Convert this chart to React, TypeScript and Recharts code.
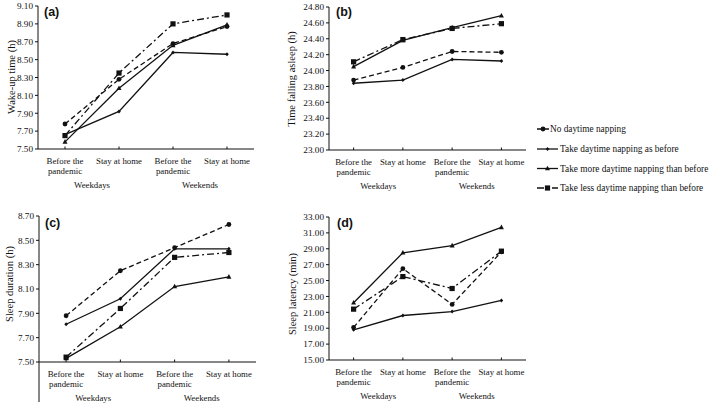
import React from 'react';
import { LineChart, Line, XAxis, YAxis } from 'recharts';

// ---------- data ----------
const categoryKeys = ['wd-before', 'wd-home', 'we-before', 'we-home'];
const situationLabels = [['Before the', 'pandemic'], ['Stay at home'], ['Before the', 'pandemic'], ['Stay at home']];
const periodLabels = ['Weekdays', 'Weekends'];
const seriesNames = [
  'No daytime napping',
  'Take daytime napping as before',
  'Take more daytime napping than before',
  'Take less daytime napping than before',
];

// (a) Wake-up time (h)
const wakeNo = [7.78, 8.28, 8.68, 8.87];
const wakeSame = [7.66, 7.92, 8.58, 8.56];
const wakeMore = [7.58, 8.18, 8.66, 8.89];
const wakeLess = [7.65, 8.35, 8.9, 9.0];
const wakeTicks = [7.5, 7.7, 7.9, 8.1, 8.3, 8.5, 8.7, 8.9, 9.1];

// (b) Time falling asleep (h)
const asleepNo = [23.88, 24.04, 24.24, 24.23];
const asleepSame = [23.84, 23.88, 24.14, 24.12];
const asleepMore = [24.05, 24.38, 24.54, 24.69];
const asleepLess = [24.11, 24.39, 24.53, 24.59];
const asleepTicks = [23.0, 23.2, 23.4, 23.6, 23.8, 24.0, 24.2, 24.4, 24.6, 24.8];

// (c) Sleep duration (h)
const durationNo = [7.88, 8.25, 8.44, 8.63];
const durationSame = [7.81, 8.02, 8.43, 8.43];
const durationMore = [7.53, 7.79, 8.12, 8.2];
const durationLess = [7.54, 7.94, 8.36, 8.4];
const durationTicks = [7.5, 7.7, 7.9, 8.1, 8.3, 8.5, 8.7];

// (d) Sleep latency (min)
const latencyNo = [19.1, 26.5, 22.0, 28.6];
const latencySame = [18.8, 20.6, 21.1, 22.5];
const latencyMore = [22.2, 28.5, 29.4, 31.7];
const latencyLess = [21.4, 25.5, 24.0, 28.7];
const latencyTicks = [15, 17, 19, 21, 23, 25, 27, 29, 31, 33];

// ---------- styles ----------
const SERIF = "'Liberation Serif', 'DejaVu Serif', serif";
const SANS = "'Liberation Sans', Arial, sans-serif";
const INK = '#111';
const serifStyle = { fontFamily: SERIF };
const X_FONT = 8.8;
const Y_FONT = 9.2;
const LEGEND_FONT = 9.3;

const seriesKeys = ['no', 'same', 'more', 'less'];
const seriesStyle: Record<string, { dash?: string; marker: string }> = {
  no: { dash: '5 3', marker: 'circle' },
  same: { marker: 'diamond' },
  more: { marker: 'triangle' },
  less: { dash: '7 3 2 3', marker: 'square' },
};

function buildData(no: number[], same: number[], more: number[], less: number[]) {
  return categoryKeys.map((k, i) => ({ key: k, no: no[i], same: same[i], more: more[i], less: less[i] }));
}

function Marker({ cx, cy, kind }: { cx: number; cy: number; kind: string }) {
  if (cx == null || cy == null) return null;
  if (kind === 'circle') return <circle cx={cx} cy={cy} r={2.4} fill={INK} />;
  if (kind === 'square') return <rect x={cx - 2.6} y={cy - 2.6} width={5.2} height={5.2} fill={INK} />;
  if (kind === 'triangle')
    return <polygon points={`${cx},${cy - 2.8} ${cx - 2.5},${cy + 1.8} ${cx + 2.5},${cy + 1.8}`} fill={INK} />;
  return <polygon points={`${cx},${cy - 2} ${cx + 1.8},${cy} ${cx},${cy + 2} ${cx - 1.8},${cy}`} fill={INK} />;
}

function CatTick(props: any) {
  const { x, y, index, half } = props;
  const lines = situationLabels[index] || [];
  const group = index % 2 === 0 ? periodLabels[index / 2] : null;
  return (
    <g>
      <line x1={x} y1={y} x2={x} y2={y - 2.5} stroke={INK} strokeWidth={1} />
      {lines.map((t: string, i: number) => (
        <text key={i} x={x} y={y + 15 + i * 9.5} textAnchor="middle" fontSize={X_FONT} fontFamily={SERIF} style={serifStyle} fill={INK}>
          {t}
        </text>
      ))}
      {group && (
        <text x={x + half} y={y + 39} textAnchor="middle" fontSize={X_FONT} fontFamily={SERIF} style={serifStyle} fill={INK}>
          {group}
        </text>
      )}
    </g>
  );
}

type PanelProps = {
  data: any[];
  ticks: number[];
  left: number;
  top: number;
  width: number;
  height: number;
  margin: { top: number; left: number; right: number; bottom: number };
  yWidth: number;
  xHeight: number;
  pad: number;
};

function Panel({ data, ticks, left, top, width, height, margin, yWidth, xHeight, pad }: PanelProps) {
  return (
    <div style={{ position: 'absolute', left, top }}>
      <LineChart width={width} height={height} data={data} margin={margin}>
        <XAxis
          dataKey="key"
          type="category"
          interval={0}
          padding={{ left: pad, right: pad }}
          axisLine={{ stroke: INK, strokeWidth: 1 }}
          tickLine={false}
          tickSize={0}
          tickMargin={0}
          height={xHeight}
          tick={(p: any) => <CatTick {...p} half={pad} />}
        />
        <YAxis
          type="number"
          domain={[ticks[0], ticks[ticks.length - 1]]}
          ticks={ticks}
          interval={0}
          width={yWidth}
          allowDataOverflow
          axisLine={{ stroke: INK, strokeWidth: 1 }}
          tickLine={{ stroke: INK, strokeWidth: 1 }}
          tickSize={3}
          tickMargin={2}
          tickFormatter={(v: number) => v.toFixed(2)}
          tick={{ fontSize: Y_FONT, fontFamily: SERIF, fill: INK, style: serifStyle }}
        />
        {seriesKeys.map((k) => (
          <Line
            key={k}
            dataKey={k}
            name={seriesNames[seriesKeys.indexOf(k)]}
            type="linear"
            stroke={INK}
            strokeWidth={1.3}
            strokeDasharray={seriesStyle[k].dash}
            isAnimationActive={false}
            dot={(p: any) => <Marker key={`${k}-${p.index}`} cx={p.cx} cy={p.cy} kind={seriesStyle[k].marker} />}
            activeDot={false}
          />
        ))}
      </LineChart>
    </div>
  );
}

function LegendSymbol({ x1, x2, y, k }: { x1: number; x2: number; y: number; k: string }) {
  return (
    <g>
      <line x1={x1} y1={y} x2={x2} y2={y} stroke={INK} strokeWidth={1.3} strokeDasharray={seriesStyle[k].dash} />
      <Marker cx={(x1 + x2) / 2} cy={y} kind={seriesStyle[k].marker} />
    </g>
  );
}

export default function App() {
  const dA = buildData(wakeNo, wakeSame, wakeMore, wakeLess);
  const dB = buildData(asleepNo, asleepSame, asleepMore, asleepLess);
  const dC = buildData(durationNo, durationSame, durationMore, durationLess);
  const dD = buildData(latencyNo, latencySame, latencyMore, latencyLess);
  const legendY = [129, 149, 168.5, 188];
  const titleProps = { textAnchor: 'middle' as const, dominantBaseline: 'central' as const, fontSize: 10.5, fontFamily: SERIF, style: serifStyle, fill: INK };
  const letterProps = { fontSize: 12.5, fontWeight: 'bold' as const, fontFamily: SANS, style: { fontFamily: SANS }, fill: INK };
  return (
    <div style={{ position: 'absolute', left: 0, top: 0, width: 709, height: 409, background: '#fff', overflow: 'hidden', fontFamily: SERIF }}>
      <Panel data={dA} ticks={wakeTicks} left={0} top={0} width={260} height={200}
        margin={{ top: 6, left: 8, right: 6, bottom: 6 }} yWidth={30} xHeight={45} pad={27} />
      <Panel data={dB} ticks={asleepTicks} left={262} top={0} width={270} height={200}
        margin={{ top: 7, left: 27, right: 6, bottom: 6 }} yWidth={40} xHeight={44} pad={24.6} />
      <Panel data={dC} ticks={durationTicks} left={0} top={205} width={262} height={204}
        margin={{ top: 11, left: 8, right: 6, bottom: 6 }} yWidth={31} xHeight={41} pad={27.1} />
      <Panel data={dD} ticks={latencyTicks} left={262} top={205} width={270} height={204}
        margin={{ top: 12, left: 27, right: 6, bottom: 6 }} yWidth={40} xHeight={43} pad={24.6} />
      <svg width={709} height={409} style={{ position: 'absolute', left: 0, top: 0, pointerEvents: 'none' }}>
        {/* y-axis titles */}
        <text transform="translate(11,77) rotate(-90)" {...titleProps}>Wake-up time (h)</text>
        <text transform="translate(291,79) rotate(-90)" {...titleProps}>Time falling asleep (h)</text>
        <text transform="translate(9,284) rotate(-90)" {...titleProps}>Sleep duration (h)</text>
        <text transform="translate(292,294) rotate(-90)" {...titleProps}>Sleep latency (min)</text>
        {/* panel letters */}
        <text x={44} y={16} {...letterProps}>(a)</text>
        <text x={336} y={16} {...letterProps}>(b)</text>
        <text x={45} y={227} {...letterProps}>(c)</text>
        <text x={337} y={227} {...letterProps}>(d)</text>
        {/* extended y-axis line of panel (c) */}
        <line x1={39} y1={362} x2={39} y2={402} stroke={INK} strokeWidth={1} />
        {/* legend */}
        {seriesKeys.map((k, i) => {
          const short = i === 0;
          const x2 = short ? 549 : 558;
          return (
            <g key={k}>
              <LegendSymbol x1={537} x2={x2} y={legendY[i]} k={k} />
              <text x={short ? 550 : 560} y={legendY[i] + 3.3} fontSize={LEGEND_FONT} fontFamily={SERIF} style={serifStyle} fill={INK}>
                {seriesNames[i]}
              </text>
            </g>
          );
        })}
      </svg>
    </div>
  );
}
